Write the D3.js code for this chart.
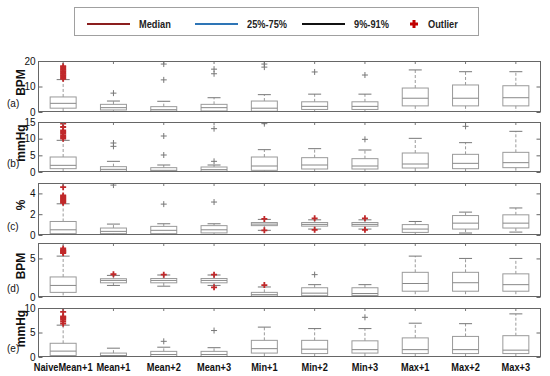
<!DOCTYPE html>
<html>
<head>
<meta charset="utf-8">
<script src="https://cdn.jsdelivr.net/npm/d3@7"></script>
<style>
  body { margin: 0; background: #fff; }
  text { font-family: "Liberation Sans", Arial, sans-serif; }
</style>
</head>
<body>
<div id="chart"></div>
<script>
var width = 550, height = 376;

var categories = ["NaiveMean+1", "Mean+1", "Mean+2", "Mean+3", "Min+1", "Min+2", "Min+3", "Max+1", "Max+2", "Max+3"];

// [whisker low, q1, median, q3, whisker high] per category
var statsA = [[0, 1.5, 3.4, 5.9, 12.7], [0, 0.8, 1.7, 3.0, 4.3], [0, 0.3, 0.9, 2.1, 4.2], [0, 0.4, 1.7, 3.0, 5.6], [0, 0.3, 1.5, 4.3, 6.8],
             [0, 1.0, 2.2, 4.0, 7.0], [0, 1.0, 2.2, 4.0, 7.0], [0, 2.4, 5.4, 9.4, 16.5], [0, 2.4, 5.4, 10.6, 15.8], [0, 2.4, 5.6, 10.3, 15.8]];
var statsB = [[0, 1.0, 2.0, 4.5, 9.5], [0, 0.2, 0.8, 1.6, 3.2], [0, 0.1, 0.5, 1.3, 2.1], [0, 0.2, 0.7, 1.5, 2.1], [0, 0.5, 1.8, 4.5, 6.7],
             [0, 0.9, 2.1, 4.3, 7.0], [0, 0.9, 1.8, 4.0, 6.6], [0, 1.2, 2.4, 5.7, 10.1], [0, 1.0, 2.6, 5.3, 8.8], [0, 1.3, 2.8, 5.9, 12.2]];
var statsC = [[0, 0.13, 0.5, 1.3, 3.0], [0, 0.13, 0.35, 0.67, 1.05], [0, 0.13, 0.45, 0.83, 1.08], [0, 0.2, 0.5, 0.9, 1.08], [0.45, 0.9, 1.05, 1.2, 1.5],
             [0.57, 0.85, 1.02, 1.2, 1.46], [0.57, 0.85, 1.02, 1.2, 1.46], [0, 0.25, 0.57, 1.0, 1.3], [0.19, 0.57, 1.14, 1.87, 2.2], [0.28, 0.67, 1.14, 1.94, 2.6]];
var statsD = [[0, 0.6, 1.5, 2.6, 5.3], [1.5, 1.84, 2.15, 2.37, 2.8], [1.4, 1.84, 2.15, 2.4, 2.85], [1.5, 1.84, 2.15, 2.4, 2.85], [0, 0.1, 0.3, 0.6, 1.3],
             [0, 0.17, 0.5, 1.2, 1.6], [0, 0.2, 0.45, 1.2, 1.6], [0, 0.75, 1.75, 3.2, 5.3], [0, 0.75, 1.85, 3.2, 5.0], [0, 0.75, 1.6, 3.0, 5.0]];
var statsE = [[0, 0.3, 1.2, 2.8, 6.5], [0, 0, 0.3, 0.8, 1.8], [0, 0, 0.5, 1.15, 2.0], [0, 0, 0.5, 1.15, 1.9], [0, 0.8, 1.7, 3.4, 6.1],
             [0, 0.7, 1.6, 3.4, 5.8], [0, 0.8, 1.5, 3.3, 5.8], [0, 0.7, 1.5, 3.9, 6.9], [0, 0.7, 1.5, 4.2, 6.8], [0, 0.7, 1.4, 4.35, 8.8]];

// outliers per category (values at the top limit are clipped by the frame)
var outA = [[13, 13.5, 14, 14.5, 15, 15.5, 16, 16.5, 17, 17.5, 18, 20], [7.4, 20], [12.6, 18.8, 20], [15, 16.8, 20], [17.6, 18.8, 20],
            [15.7, 20], [14.5, 20], [20], [20], [20]];
var outB = [[10, 10.5, 11, 11.5, 12, 12.5, 13.5, 14.5, 15], [7.7, 8.7, 15], [5.1, 10.8, 15], [3.2, 13, 15], [14.5, 15],
            [15], [9.8, 15], [15], [13.7, 15], [15]];
var outC = [[3.1, 3.2, 3.3, 3.4, 3.5, 3.6, 3.7, 3.8, 4.6, 5], [4.8, 5], [2.97, 5], [3.17, 5], [0.45, 1.55, 5],
            [0.5, 1.6, 5], [0.5, 1.6, 5], [5], [5], [5]];
var outD = [[5.7, 5.8, 5.9, 6.0, 6.1, 6.3, 7], [2.95, 7], [2.9, 7], [1.25, 2.9, 7], [1.55, 7],
            [2.9, 7], [7], [7], [7], [7]];
var outE = [[6.8, 7.2, 7.6, 7.9, 8.1, 8.3, 9.2, 10], [10], [3.2, 10], [5.4, 10], [10],
            [10], [8.1, 10], [10], [10], [10]];

var redA = [0], redB = [0], redC = [0, 4, 5, 6], redD = [0, 1, 2, 3, 4], redE = [0];

var units = ["BPM", "mmHg", "%", "BPM", "mmHg"];
var letters = ["(a)", "(b)", "(c)", "(d)", "(e)"];
var yMax = [20, 15, 5, 7, 10];
var yTicks = [[0, 10, 20], [0, 5, 10, 15], [0, 2, 4], [0, 5], [0, 5, 10]];

var legendLabels = ["Median", "25%-75%", "9%-91%", "Outlier"];
var legendColors = ["#8b1e1e", "#2e75b6", "#111111", "#c00000"];

var panels = [
  { stats: statsA, out: outA, red: redA },
  { stats: statsB, out: outB, red: redB },
  { stats: statsC, out: outC, red: redC },
  { stats: statsD, out: outD, red: redD },
  { stats: statsE, out: outE, red: redE }
];

var plotLeft = 38, plotRight = 541;
var panelTop = [61, 122, 183, 243, 308];
var panelBottom = [112, 172, 235, 297, 357];
var narrow = "scale(0.84,1)";

var svg = d3.select("#chart").append("svg")
  .attr("width", width)
  .attr("height", height);

// legend
var legend = svg.append("g");
legend.append("rect")
  .attr("x", 74.5).attr("y", 7.5)
  .attr("width", 404).attr("height", 28)
  .style("fill", "#fff").style("stroke", "#a0a0a0");

var legendX = d3.scaleOrdinal().domain(legendLabels).range([87, 195, 302, 411]);
legendLabels.forEach(function(lab, i) {
  var x0 = legendX(lab);
  if (i < 3) {
    legend.append("line")
      .attr("x1", x0).attr("x2", x0 + 43)
      .attr("y1", 24).attr("y2", 24)
      .style("stroke", legendColors[i]).style("stroke-width", 2);
  } else {
    legend.append("path")
      .attr("d", "M" + (x0 + 3) + ",20v8M" + (x0 - 1) + ",24h8")
      .style("stroke", legendColors[i]).style("stroke-width", 3);
  }
  legend.append("text")
    .attr("transform", "translate(" + (i < 3 ? x0 + 52 : x0 + 17) + ",28)" + narrow)
    .style("font-size", "11px").style("font-weight", "bold")
    .style("fill", "#222")
    .text(lab);
});

var x = d3.scaleBand()
  .domain(categories)
  .range([plotLeft, plotRight])
  .padding(0);

var boxW = 26;
var boxColor = "#9a9a9a";

panels.forEach(function(p, pi) {
  var y = d3.scaleLinear()
    .domain([0, yMax[pi]])
    .range([panelBottom[pi], panelTop[pi]]);

  var g = svg.append("g");

  g.append("clipPath").attr("id", "clip" + pi)
    .append("rect")
    .attr("x", plotLeft).attr("y", panelTop[pi])
    .attr("width", plotRight - plotLeft).attr("height", panelBottom[pi] - panelTop[pi]);

  var inner = g.append("g").attr("clip-path", "url(#clip" + pi + ")");

  p.stats.forEach(function(s, ci) {
    var cx = x(categories[ci]) + x.bandwidth() / 2;
    // whiskers
    inner.append("line")
      .attr("x1", cx).attr("x2", cx)
      .attr("y1", y(s[3])).attr("y2", y(s[4]))
      .style("stroke", boxColor).style("stroke-dasharray", "3,2");
    inner.append("line")
      .attr("x1", cx).attr("x2", cx)
      .attr("y1", y(s[1])).attr("y2", y(s[0]))
      .style("stroke", boxColor).style("stroke-dasharray", "3,2");
    // caps
    [s[0], s[4]].forEach(function(v) {
      inner.append("line")
        .attr("x1", cx - boxW / 4).attr("x2", cx + boxW / 4)
        .attr("y1", y(v)).attr("y2", y(v))
        .style("stroke", "#777");
    });
    // box
    inner.append("rect")
      .attr("x", cx - boxW / 2).attr("y", y(s[3]))
      .attr("width", boxW).attr("height", Math.max(0.5, y(s[1]) - y(s[3])))
      .style("fill", "none").style("stroke", boxColor);
    // median
    inner.append("line")
      .attr("x1", cx - boxW / 2).attr("x2", cx + boxW / 2)
      .attr("y1", y(s[2])).attr("y2", y(s[2]))
      .style("stroke", "#888");
    // outliers
    var isRed = p.red.indexOf(ci) >= 0;
    p.out[ci].forEach(function(v) {
      var oy = y(v);
      var red = isRed && v < yMax[pi];
      inner.append("path")
        .attr("d", "M" + (cx - 3) + "," + oy + "h6M" + cx + "," + (oy - 3) + "v6")
        .style("stroke", red ? "#c0282a" : "#777")
        .style("stroke-width", red ? 1.8 : 1);
    });
  });

  // frame
  g.append("rect")
    .attr("x", plotLeft + 0.5).attr("y", panelTop[pi] + 0.5)
    .attr("width", plotRight - plotLeft - 1).attr("height", panelBottom[pi] - panelTop[pi] - 1)
    .style("fill", "none").style("stroke", "#666");

  // left axis
  var left = g.append("g")
    .attr("transform", "translate(" + (plotLeft + 0.5) + ",0)")
    .call(d3.axisLeft(y).tickValues(yTicks[pi]).tickSize(-4).tickPadding(3).tickFormat(d3.format("d")));
  left.select(".domain").remove();
  left.selectAll(".tick line").style("stroke", "#666");
  left.selectAll(".tick text")
    .style("font-size", "10px")
    .style("fill", "#111");

  // right ticks
  var right = g.append("g")
    .attr("transform", "translate(" + (plotRight - 0.5) + ",0)")
    .call(d3.axisRight(y).tickValues(yTicks[pi]).tickSize(-4).tickFormat(""));
  right.select(".domain").remove();
  right.selectAll(".tick line").style("stroke", "#666");

  // unit label
  g.append("text")
    .attr("transform", "translate(25," + ((panelTop[pi] + panelBottom[pi]) / 2 - 4) + ")rotate(-90)")
    .attr("text-anchor", "middle")
    .style("font-size", "12px").style("font-weight", "bold")
    .style("fill", "#111")
    .text(units[pi]);

  g.append("text")
    .attr("x", 7).attr("y", panelBottom[pi] - 5)
    .style("font-size", "10px")
    .style("fill", "#111")
    .text(letters[pi]);
});

// category axis
var bottom = svg.append("g")
  .attr("transform", "translate(0," + panelBottom[4] + ")")
  .call(d3.axisBottom(x).tickSize(0).tickPadding(6));
bottom.select(".domain").remove();
bottom.selectAll(".tick text")
  .attr("transform", narrow)
  .style("font-size", "11px").style("font-weight", "bold")
  .style("fill", "#111");
</script>
</body>
</html>
